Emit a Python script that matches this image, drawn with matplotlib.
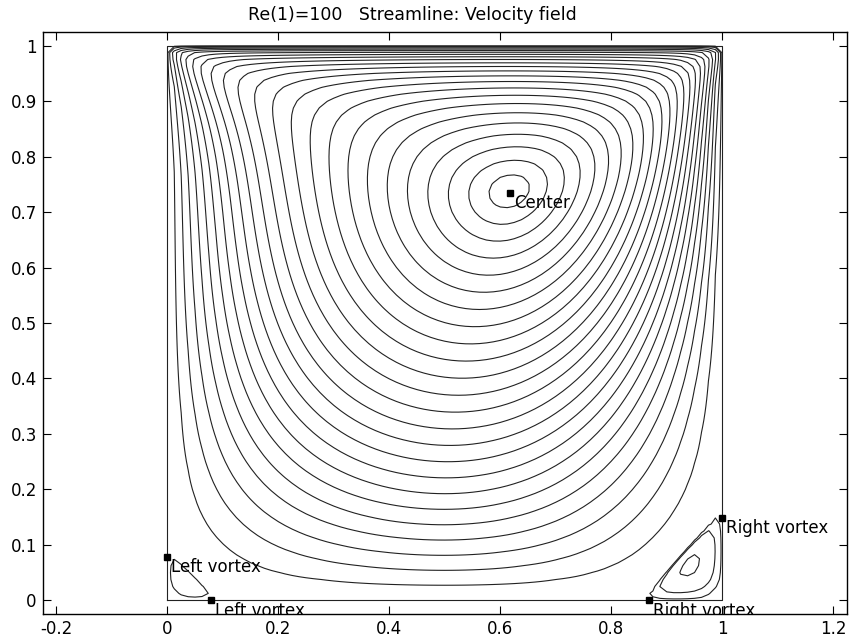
import numpy as np
import matplotlib
matplotlib.use("Agg")
import matplotlib.pyplot as plt

# flow settings
reynolds = 100
lid_speed = 1.0

# marked points (x, y) and their labels
point_x = [0.6172, 0.0, 0.0781, 1.0, 0.8672]
point_y = [0.7344, 0.0781, 0.0, 0.1484, 0.0]
point_label = ["Center", "Left vortex", "Left vortex", "Right vortex", "Right vortex"]

x_ticks = [-0.2, 0, 0.2, 0.4, 0.6, 0.8, 1, 1.2]
y_ticks = [0, 0.1, 0.2, 0.3, 0.4, 0.5, 0.6, 0.7, 0.8, 0.9, 1]
n_lines = 24


def solve_cavity(re, U, N=80, dt=0.003, t_end=30.0):
    # vorticity / stream function, explicit in time, sine-transform Poisson
    h = 1.0 / N
    n = N - 1
    k = np.arange(1, n + 1)
    S = np.sqrt(2.0 / N) * np.sin(np.pi * np.outer(k, k) / N)
    lam = (2 - 2 * np.cos(np.pi * k / N)) / h**2
    denom = lam[:, None] + lam[None, :]
    psi = np.zeros((N + 1, N + 1))
    w = np.zeros((N + 1, N + 1))
    for _ in range(int(t_end / dt)):
        psi[1:-1, 1:-1] = S @ ((S @ w[1:-1, 1:-1] @ S) / denom) @ S
        w[-1, :] = -2 * psi[-2, :] / h**2 - 2 * U / h
        w[0, :] = -2 * psi[1, :] / h**2
        w[:, 0] = -2 * psi[:, 1] / h**2
        w[:, -1] = -2 * psi[:, -2] / h**2
        u = (psi[2:, 1:-1] - psi[:-2, 1:-1]) / (2 * h)
        v = -(psi[1:-1, 2:] - psi[1:-1, :-2]) / (2 * h)
        wx = (w[1:-1, 2:] - w[1:-1, :-2]) / (2 * h)
        wy = (w[2:, 1:-1] - w[:-2, 1:-1]) / (2 * h)
        lap = (w[1:-1, 2:] + w[1:-1, :-2] + w[2:, 1:-1] + w[:-2, 1:-1]
               - 4 * w[1:-1, 1:-1]) / h**2
        w[1:-1, 1:-1] += dt * (-u * wx - v * wy + lap / re)
    return np.linspace(0, 1, N + 1), psi


xs, psi = solve_cavity(reynolds, lid_speed)
N = len(xs) - 1

# levels: equally spaced in distance below the vortex center
jc, ic = np.unravel_index(np.argmin(psi), psi.shape)
yc = xs[jc]
col = psi[:, ic]
ys = np.linspace(0, yc, n_lines + 2)[1:-1]
levels = sorted(set(np.interp(ys, xs, col)))

# corner vortices
br = psi[: int(0.25 * N), int(0.75 * N):]
bl = psi[: int(0.2 * N), : int(0.2 * N)]
pos_levels = sorted([0.85 * br.max(), 0.2 * br.max(), 0.2 * bl.max()])

fig = plt.figure(figsize=(8.49, 6.42), dpi=100)
ax = fig.add_axes([43 / 849, 28 / 642, 804 / 849, 582 / 642])

line_col = "#222222"
ax.contour(xs, xs, psi, levels=levels, colors=line_col, linewidths=0.8,
           linestyles="solid")
ax.contour(xs, xs, psi, levels=pos_levels, colors=line_col, linewidths=0.8,
           linestyles="solid")
ax.plot([0, 1, 1, 0, 0], [0, 0, 1, 1, 0], color=line_col, lw=0.8)

ax.plot(point_x, point_y, "s", color="k", ms=4.5, clip_on=False)
for px, py, lab in zip(point_x, point_y, point_label):
    ax.annotate(lab, (px, py), xytext=(3, -1), textcoords="offset points",
                ha="left", va="top", fontsize=12, annotation_clip=False,
                clip_on=True)

ax.set_xlim(-0.224, 1.2247)
ax.set_ylim(-0.0247, 1.0247)
ax.set_xticks(x_ticks)
ax.set_xticklabels(["-0.2", "0", "0.2", "0.4", "0.6", "0.8", "1", "1.2"])
ax.set_yticks(y_ticks)
ax.set_yticklabels(["0", "0.1", "0.2", "0.3", "0.4", "0.5", "0.6", "0.7",
                    "0.8", "0.9", "1"])
ax.tick_params(direction="in", top=True, right=True, length=6, width=0.8,
               labelsize=12, pad=4.5)
for s in ax.spines.values():
    s.set_linewidth(1.0)
fig.text(412.5 / 849, 1 - 20 / 642, "Re(1)=100   Streamline: Velocity field",
         fontsize=12.5, ha="center", va="baseline")

fig.savefig("out.png", dpi=100)
